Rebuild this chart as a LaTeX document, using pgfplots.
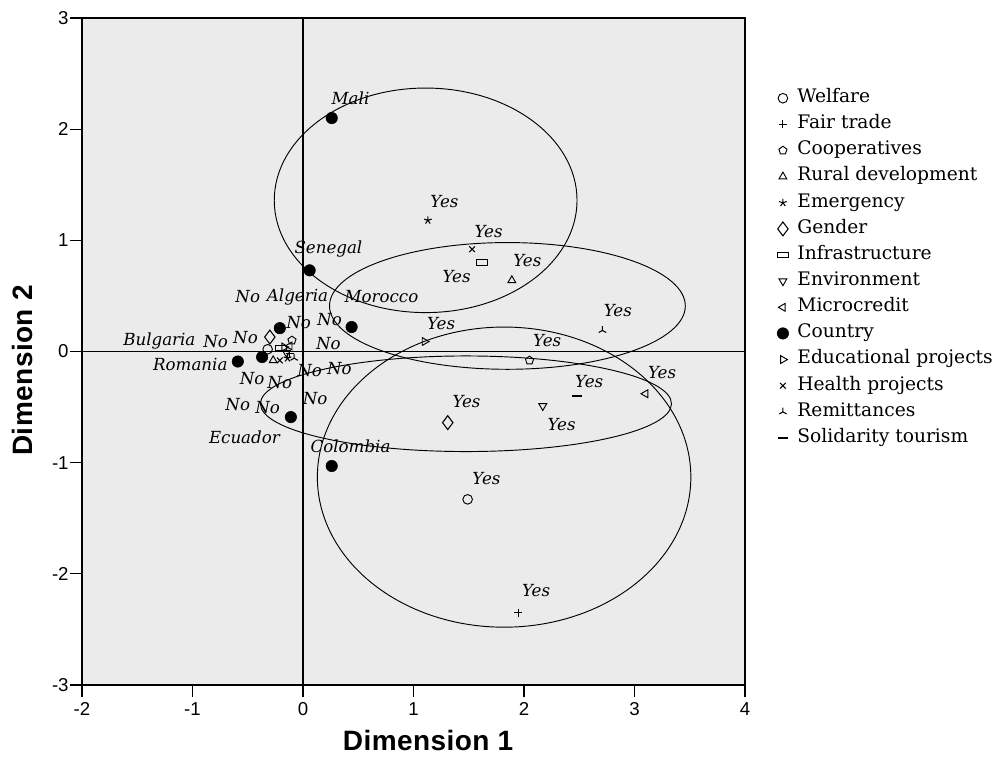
\documentclass[border=0pt]{standalone}
\usepackage{fontspec}
\setmainfont{DejaVu Serif}
\newfontfamily\tickfont{Liberation Sans}
\newfontfamily\labelfont[LetterSpace=1.5]{Liberation Sans}
\usepackage{pgfplots}
\pgfplotsset{compat=1.18}
\usetikzlibrary{plotmarks}
\definecolor{bgray}{RGB}{235,235,235}

\begin{document}
\begin{tikzpicture}[lab/.style={font=\itshape\fontsize{12.5}{14}\selectfont, inner sep=0pt}]
\begin{axis}[
  width=497.25pt, height=500.25pt, scale only axis,
  xmin=-2, xmax=4, ymin=-3, ymax=3,
  xtick={-2,-1,0,1,2,3,4}, ytick={-3,-2,-1,0,1,2,3},
  tick align=outside, tick pos=left,
  major tick length=9pt,
  axis line style={line width=0.9pt},
  tick style={line width=0.9pt, black},
  axis background/.style={fill=bgray},
  /pgf/number format/assume math mode=true,
  tick label style={font=\tickfont\fontsize{14}{16}\selectfont},
  xticklabel style={yshift=-0.5pt},
  yticklabel style={xshift=2.5pt},
  xlabel={Dimension 1}, ylabel={Dimension 2},
  label style={font=\labelfont\bfseries\fontsize{21}{24}\selectfont},
  xlabel style={at={(axis description cs:0.522,-0.0835)}, anchor=center},
  ylabel style={at={(axis description cs:-0.0905,0.4715)}, anchor=center},
  legend cell align=left,
  legend image code/.code={\draw[mark repeat=2,mark phase=2,#1] plot coordinates {(0cm,0cm) (0.15cm,0cm) (0.3cm,0cm)};},
  legend style={at={(1.048,0.8946)}, anchor=north west, draw=none, fill=none, inner sep=0pt,
     font=\fontsize{14}{15}\selectfont, row sep=5.1pt,
     /tikz/every odd column/.append style={column sep=5.5pt},
     nodes={inner sep=1pt, text height=9.5pt, text depth=3pt}},
]
% reference lines and ellipses
\draw[line width=0.8pt] (axis cs:0,-3) -- (axis cs:0,3);
\draw[line width=0.8pt] (axis cs:-2,0) -- (axis cs:4,0);
\draw[line width=0.7pt] (axis cs:1.11,1.36) ellipse [x radius=1.37, y radius=1.01];
\draw[line width=0.7pt] (axis cs:1.85,0.41) ellipse [x radius=1.61, y radius=0.57];
\draw[line width=0.7pt] (axis cs:1.475,-0.47) ellipse [x radius=1.86, y radius=0.43];
\draw[line width=0.7pt] (axis cs:1.82,-1.13) ellipse [x radius=1.69, y radius=1.35];

\addplot[only marks, mark=o, mark size=3.6pt, black, line width=0.7pt] coordinates {(-0.32,0.02) (1.49,-1.33)};
\addlegendentry{Welfare}
\addplot[only marks, mark=+, mark size=3pt, black, line width=0.8pt] coordinates {(-0.12,-0.02) (1.95,-2.35)};
\addlegendentry{Fair trade}
\addplot[only marks, mark=pentagon, mark size=3.2pt, black, line width=0.7pt] coordinates {(-0.10,0.10) (2.05,-0.08)};
\addlegendentry{Cooperatives}
\addplot[only marks, mark=triangle, mark size=3.4pt, black, line width=0.7pt] coordinates {(-0.27,-0.08) (1.89,0.64)};
\addlegendentry{Rural development}
\addplot[only marks, mark=star, mark size=3pt, black, line width=0.8pt] coordinates {(-0.14,-0.06) (1.13,1.18)};
\addlegendentry{Emergency}
\addplot[only marks, mark=diamond, mark size=5.2pt, black, line width=0.8pt] coordinates {(-0.30,0.13) (1.31,-0.64)};
\addlegendentry{Gender}
\addplot[only marks, mark=square, mark size=2.3pt, black, line width=0.7pt, mark options={xscale=1.9,yscale=0.9}] coordinates {(-0.20,0.03) (1.62,0.80)};
\addlegendentry{Infrastructure}
\addplot[only marks, mark=triangle, mark size=3.4pt, black, line width=0.7pt, mark options={rotate=180}] coordinates {(-0.15,-0.01) (2.17,-0.49)};
\addlegendentry{Environment}
\addplot[only marks, mark=triangle, mark size=3.4pt, black, line width=0.7pt, mark options={rotate=90}] coordinates {(-0.12,0.05) (3.10,-0.38)};
\addlegendentry{Microcredit}
\addplot[only marks, mark=*, mark size=4.3pt, black] coordinates {(0.26,2.10) (0.06,0.73) (0.44,0.22) (-0.21,0.21) (-0.37,-0.05) (-0.59,-0.09) (-0.11,-0.59) (0.26,-1.03)};
\addlegendentry{Country}
\addplot[only marks, mark=triangle, mark size=3.4pt, black, line width=0.7pt, mark options={rotate=270}] coordinates {(-0.17,0.04) (1.10,0.09)};
\addlegendentry{Educational projects}
\addplot[only marks, mark=x, mark size=3pt, black, line width=0.8pt] coordinates {(-0.21,-0.08) (1.53,0.92)};
\addlegendentry{Health projects}
\addplot[only marks, mark=Mercedes star, mark size=3.2pt, black, line width=0.8pt] coordinates {(-0.08,-0.06) (2.71,0.19)};
\addlegendentry{Remittances}
\addplot[only marks, mark=-, mark size=3.6pt, black, line width=0.9pt] coordinates {(-0.18,0.00) (2.48,-0.40)};
\addlegendentry{Solidarity tourism}

% country labels
\node[lab] at (axis cs:0.43,2.28) {Mali};
\node[lab] at (axis cs:0.23,0.92) {Senegal};
\node[lab] at (axis cs:-0.05,0.49) {Algeria};
\node[lab] at (axis cs:0.71,0.49) {Morocco};
\node[lab] at (axis cs:-1.30,0.09) {Bulgaria};
\node[lab] at (axis cs:-1.02,-0.12) {Romania};
\node[lab] at (axis cs:-0.53,-0.77) {Ecuador};
\node[lab] at (axis cs:0.43,-0.85) {Colombia};
% Yes labels
\node[lab] at (axis cs:1.28,1.35) {Yes};
\node[lab] at (axis cs:1.68,1.08) {Yes};
\node[lab] at (axis cs:1.39,0.67) {Yes};
\node[lab] at (axis cs:2.03,0.82) {Yes};
\node[lab] at (axis cs:2.85,0.37) {Yes};
\node[lab] at (axis cs:1.25,0.25) {Yes};
\node[lab] at (axis cs:2.21,0.10) {Yes};
\node[lab] at (axis cs:3.25,-0.19) {Yes};
\node[lab] at (axis cs:2.59,-0.27) {Yes};
\node[lab] at (axis cs:2.34,-0.66) {Yes};
\node[lab] at (axis cs:1.48,-0.45) {Yes};
\node[lab] at (axis cs:1.66,-1.14) {Yes};
\node[lab] at (axis cs:2.11,-2.15) {Yes};
% No labels
\node[lab] at (axis cs:-0.50,0.49) {No};
\node[lab] at (axis cs:-0.04,0.26) {No};
\node[lab] at (axis cs:0.24,0.29) {No};
\node[lab] at (axis cs:-0.79,0.09) {No};
\node[lab] at (axis cs:-0.52,0.13) {No};
\node[lab] at (axis cs:0.23,0.07) {No};
\node[lab] at (axis cs:-0.46,-0.24) {No};
\node[lab] at (axis cs:-0.21,-0.28) {No};
\node[lab] at (axis cs:0.06,-0.17) {No};
\node[lab] at (axis cs:0.33,-0.15) {No};
\node[lab] at (axis cs:-0.59,-0.48) {No};
\node[lab] at (axis cs:-0.32,-0.50) {No};
\node[lab] at (axis cs:0.11,-0.42) {No};
\end{axis}
\pgfresetboundingbox
\path (-61.5pt,-60pt) rectangle (691.5pt,513.75pt);
\end{tikzpicture}
\end{document}
